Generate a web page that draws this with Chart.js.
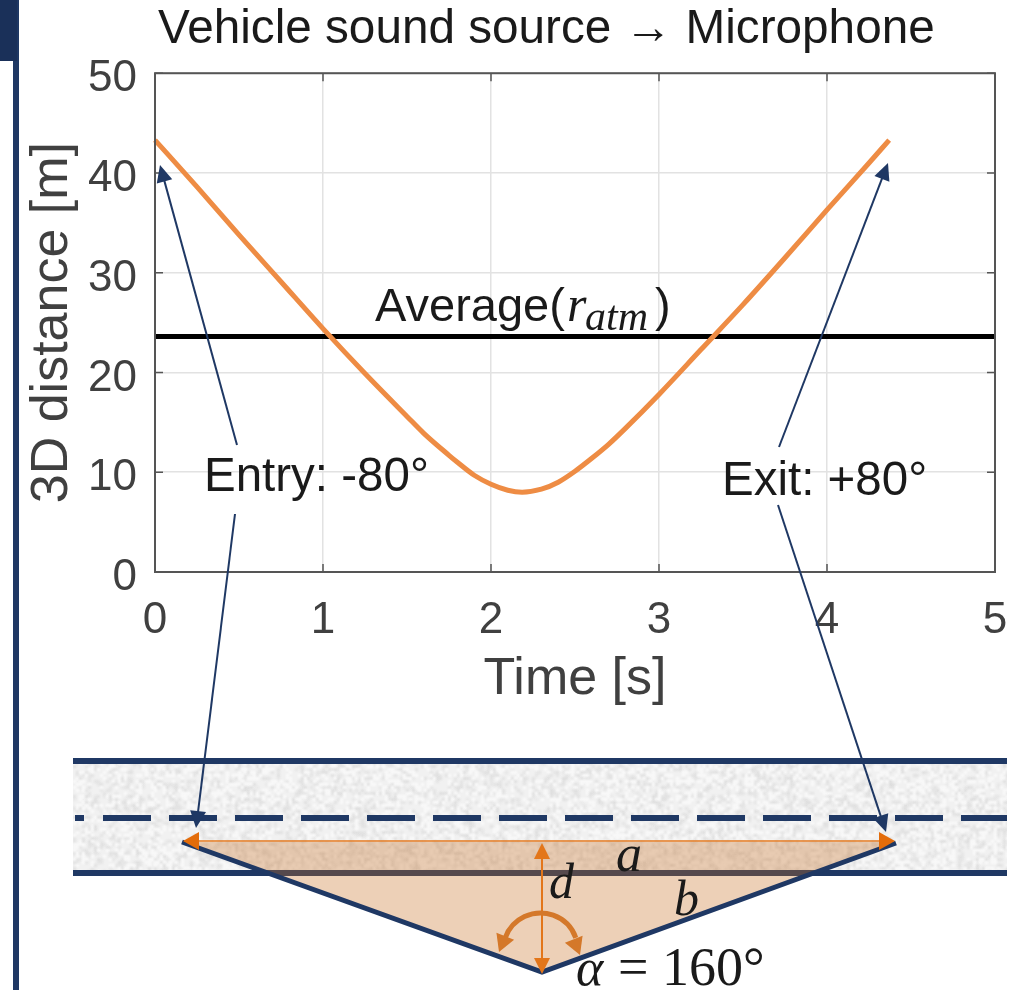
<!DOCTYPE html>
<html><head><meta charset="utf-8">
<style>html,body{margin:0;padding:0;background:#fff}canvas{display:block}</style>
<script src="https://cdn.jsdelivr.net/npm/chart.js@4"></script>
</head><body>
<div style="width:1025px;height:990px;position:relative"><canvas id="c" width="1025" height="990"></canvas></div>
<script>
const timeSeconds = [0,0.25,0.5,0.75,1.0,1.25,1.5,1.6,1.75,1.8,1.9,2.0,2.1,2.185,2.3,2.4,2.5,2.6,2.7,2.8,3.0,3.25,3.5,3.75,4.0,4.25,4.37];
const distanceMeters = [43.3,38.6,33.8,29.1,24.4,19.9,15.6,13.9,11.7,11.0,9.7,8.8,8.2,8.0,8.3,9.0,10.1,11.4,12.8,14.4,17.8,22.3,26.8,31.5,36.3,41.0,43.3];
const averageTime = [0,5];
const averageDistance = [23.6,23.6];
const xTicks = [0,1,2,3,4,5];
const yTicks = [0,10,20,30,40,50];
const SANS = '"Liberation Sans", Arial, sans-serif';
const SERIF = '"Liberation Serif", serif';
const NAVY = '#1f3864';

function arrow(ctx, x0, y0, x1, y1, color, w, len, wid){
  const a = Math.atan2(y1-y0, x1-x0);
  ctx.strokeStyle = color; ctx.fillStyle = color; ctx.lineWidth = w;
  ctx.beginPath(); ctx.moveTo(x0,y0);
  ctx.lineTo(x1-Math.cos(a)*len*0.8, y1-Math.sin(a)*len*0.8); ctx.stroke();
  head(ctx, x1, y1, a, color, len, wid);
}
function head(ctx, x1, y1, a, color, len, wid){
  ctx.fillStyle = color; ctx.beginPath(); ctx.moveTo(x1,y1);
  ctx.lineTo(x1-Math.cos(a)*len-Math.sin(a)*wid/2, y1-Math.sin(a)*len+Math.cos(a)*wid/2);
  ctx.lineTo(x1-Math.cos(a)*len+Math.sin(a)*wid/2, y1-Math.sin(a)*len-Math.cos(a)*wid/2);
  ctx.closePath(); ctx.fill();
}
function txt(ctx, s, x, y, font, color){
  ctx.font = font; ctx.fillStyle = color || '#1a1a1a';
  ctx.textAlign = 'left'; ctx.textBaseline = 'alphabetic'; ctx.fillText(s, x, y);
}
function roadTexture(ctx, x, y, w, h){
  ctx.save(); ctx.beginPath(); ctx.rect(x,y,w,h); ctx.clip();
  ctx.fillStyle = '#f1f1f1'; ctx.fillRect(x,y,w,h);
  ctx.filter = 'blur(1.3px)';
  let seed = 12345;
  for(let py=y; py<y+h; py+=3){ for(let px=x; px<x+w; px+=3){
    seed = (seed*1103515245+12345) & 0x7fffffff;
    const v = (seed>>>16) & 255;
    if(v<70){ ctx.fillStyle = 'rgba(185,185,185,'+(0.15+v/350)+')'; ctx.fillRect(px,py,3,3); }
    else if(v>190){ ctx.fillStyle = 'rgba(255,255,255,0.75)'; ctx.fillRect(px,py,3,3); }
  }}
  ctx.restore();
}
const overlay = {
  id:'overlay',
  beforeDraw(chart){
    chart.titleBlock.left = chart.chartArea.left + 3;
    chart.scales.y.getLabelItems(chart.chartArea).forEach(it=>{
      if(!it._moved){ it.options.translation[1] += 6; it._moved = true; }
    });
  },
  afterDraw(chart){
    const ctx = chart.ctx, A = chart.chartArea, sx = chart.scales.x, sy = chart.scales.y;
    ctx.save();
    ctx.strokeStyle = '#555'; ctx.lineWidth = 2;
    ctx.strokeRect(A.left, A.top, A.right-A.left, A.bottom-A.top);
    ctx.lineWidth = 1.5;
    ctx.beginPath();
    xTicks.forEach(v=>{const p=sx.getPixelForValue(v);
      ctx.moveTo(p,A.bottom);ctx.lineTo(p,A.bottom-8);ctx.moveTo(p,A.top);ctx.lineTo(p,A.top+8);});
    yTicks.forEach(v=>{const p=sy.getPixelForValue(v);
      ctx.moveTo(A.left,p);ctx.lineTo(A.left+8,p);ctx.moveTo(A.right,p);ctx.lineTo(A.right-8,p);});
    ctx.stroke();
    ctx.fillStyle = NAVY; ctx.fillRect(13,0,6,990);
    ctx.fillStyle = '#1a3059'; ctx.fillRect(0,0,17,61);
    roadTexture(ctx,73,762,934,110);
    ctx.fillStyle = NAVY;
    ctx.fillRect(73,758,934,6); ctx.fillRect(73,870,934,6);
    ctx.fillRect(75,815,9,6);
    for(let x=103; x<1007; x+=66){ ctx.fillRect(x,815,Math.min(48,1007-x),6); }
    ctx.fillStyle = 'rgba(200,110,30,0.32)';
    ctx.beginPath(); ctx.moveTo(183,842); ctx.lineTo(895,842); ctx.lineTo(542,972); ctx.closePath(); ctx.fill();
    ctx.strokeStyle = NAVY; ctx.lineWidth = 5; ctx.lineJoin='miter';
    ctx.beginPath(); ctx.moveTo(182,842); ctx.lineTo(542,972); ctx.lineTo(896,843); ctx.stroke();
    ctx.strokeStyle = '#e3761a'; ctx.lineWidth = 1.6;
    ctx.beginPath(); ctx.moveTo(195,841); ctx.lineTo(885,841); ctx.stroke();
    head(ctx,183,841,Math.PI,'#e36c0a',16,18);
    head(ctx,895,841,0,'#e36c0a',16,18);
    ctx.strokeStyle = '#e3761a'; ctx.lineWidth = 2;
    ctx.beginPath(); ctx.moveTo(542,850); ctx.lineTo(542,962); ctx.stroke();
    head(ctx,542,843,-Math.PI/2,'#e3761a',16,16);
    head(ctx,542,974,Math.PI/2,'#e3761a',16,16);
    ctx.strokeStyle = '#d4782a'; ctx.lineWidth = 5;
    ctx.beginPath(); ctx.arc(540.5,950.5,37.5,Math.PI*1.11,Math.PI*1.89); ctx.stroke();
    head(ctx,499,952,Math.PI*0.62,'#d4782a',17,19);
    head(ctx,580,955,Math.PI*0.38,'#d4782a',17,19);
    arrow(ctx,237,445,160,165,NAVY,2,17,16);
    arrow(ctx,235,514,196,828,NAVY,2,17,16);
    arrow(ctx,779,447,888,163,NAVY,2,17,16);
    arrow(ctx,778,505,886,832,NAVY,2,17,16);
    txt(ctx,'Entry: -80°',204,491,'47.5px '+SANS);
    txt(ctx,'Exit: +80°',722,495,'47.5px '+SANS);
    txt(ctx,'Average(',375,321,'47px '+SANS);
    txt(ctx,'r',567,321,'italic 50px '+SERIF);
    txt(ctx,'atm',585,330,'italic 42px '+SERIF);
    txt(ctx,')',655,321,'47px '+SANS);
    txt(ctx,'a',616,871,'italic 52px '+SERIF);
    txt(ctx,'d',549,898,'italic 50px '+SERIF);
    txt(ctx,'b',674,915,'italic 50px '+SERIF);
    txt(ctx,'α',576,985,'italic 52px '+SERIF);
    txt(ctx,'= 160°',618,985,'54px '+SERIF);
    ctx.restore();
  }
};
new Chart(document.getElementById('c'),{
  type:'line',
  data:{datasets:[
    {label:'Distance',data:timeSeconds.map((t,i)=>({x:t,y:distanceMeters[i]})),borderColor:'#ee8c44',borderWidth:5,pointRadius:0,cubicInterpolationMode:'monotone',clip:false},
    {label:'Average',data:averageTime.map((t,i)=>({x:t,y:averageDistance[i]})),borderColor:'#000',borderWidth:5,pointRadius:0}
  ]},
  plugins:[overlay],
  options:{
    responsive:false,animation:false,
    layout:{padding:{left:17,right:30,top:0,bottom:275}},
    plugins:{
      legend:{display:false},tooltip:{enabled:false},
      title:{display:true,fullSize:false,align:'start',text:'Vehicle sound source → Microphone',color:'#1a1a1a',
        font:{family:SANS,size:47.7,weight:'normal',lineHeight:1.2},padding:{top:1.5,bottom:14.5}}
    },
    scales:{
      x:{type:'linear',min:0,max:5,
        afterFit(s){s.height=143;s.paddingLeft=0;s.paddingRight=0;},
        afterBuildTicks(s){s.ticks=xTicks.map(v=>({value:v}));},
        grid:{color:'#e2e2e2',lineWidth:1.5,tickLength:0,drawTicks:false},
        border:{display:false},
        ticks:{color:'#404040',padding:22,maxRotation:0,autoSkip:false,font:{family:SANS,size:44}},
        title:{display:true,text:'Time [s]',color:'#404040',font:{family:SANS,size:52,weight:'normal',lineHeight:1.2}}
      },
      y:{type:'linear',min:0,max:50,
        afterFit(s){s.width=138;},
        afterBuildTicks(s){s.ticks=yTicks.map(v=>({value:v}));},
        grid:{color:'#e2e2e2',lineWidth:1.5,tickLength:0,drawTicks:false},
        border:{display:false},
        ticks:{color:'#404040',padding:18,autoSkip:false,font:{family:SANS,size:44}},
        title:{display:true,text:'3D distance [m]',color:'#404040',font:{family:SANS,size:52,weight:'normal',lineHeight:1.2}}
      }
    }
  }
});
</script>
</body></html>
